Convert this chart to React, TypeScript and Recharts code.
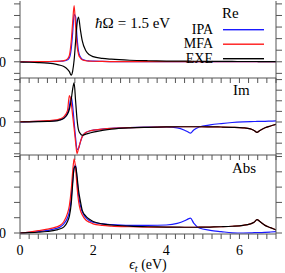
import { LineChart, Line, XAxis, YAxis } from "recharts";

// photon energy grid (eV)
const energy = [
  0, 0.25, 0.5, 0.75, 1.0, 1.1, 1.2, 1.3, 1.35, 1.4, 1.44, 1.48, 1.52, 1.56, 1.6, 1.65, 1.7, 1.8, 1.9, 2.0,
  2.25, 2.5, 3.0, 3.5, 4.0, 4.3, 4.5, 4.6, 4.66, 4.75, 4.9, 5.2, 5.5, 5.8, 6.1, 6.3, 6.4, 6.48, 6.56, 6.7, 6.85, 7.0,
];

const reIpa = [
  0, 0.001, 0.002, 0.003, 0.006, 0.009, 0.014, 0.035, 0.07, 0.22, 0.5, 0.82, 0.78, 0.42, 0.18, 0.085, 0.045, 0.022, 0.014, 0.01,
  0.006, 0.004, 0.003, 0.002, 0.002, 0.002, 0.002, 0.002, 0.002, 0.002, 0.001, 0.001, 0.001, 0.001, 0.001, 0.001, 0.001, 0.001, 0.001, 0.001, 0.001, 0.001,
];
const reMfa = [
  0, 0.001, 0.002, 0.004, 0.008, 0.012, 0.02, 0.05, 0.11, 0.35, 0.68, 0.97, 0.62, 0.28, 0.13, 0.065, 0.035, 0.018, 0.012, 0.009,
  0.006, 0.004, 0.003, 0.002, 0.002, 0.002, 0.002, 0.002, 0.002, 0.002, 0.002, 0.001, 0.001, 0.001, 0.001, 0.001, 0.001, 0.001, 0.001, 0.001, 0.001, 0.001,
];
const reExe = [
  -0.004, -0.008, -0.014, -0.024, -0.045, -0.06, -0.08, -0.13, -0.17, -0.23, -0.16, 0.03, 0.35, 0.66, 0.77, 0.56, 0.37, 0.19, 0.12, 0.09,
  0.06, 0.045, 0.027, 0.018, 0.013, 0.011, 0.01, 0.01, 0.01, 0.009, 0.009, 0.008, 0.007, 0.006, 0.005, 0.005, 0.005, 0.005, 0.004, 0.004, 0.003, 0.003,
];

const imIpa = [
  0.003, 0.005, 0.01, 0.018, 0.03, 0.045, 0.075, 0.17, 0.3, 0.48, 0.3, 0.0, -0.3, -0.52, -0.5, -0.38, -0.28, -0.2, -0.17, -0.155,
  -0.135, -0.12, -0.105, -0.098, -0.095, -0.11, -0.155, -0.19, -0.21, -0.15, -0.095, -0.055, -0.03, -0.01, 0.002, 0.007, 0.009, 0.01, 0.011, 0.013, 0.016, 0.02,
];
const imMfa = [
  0.005, 0.008, 0.015, 0.025, 0.04, 0.06, 0.1, 0.22, 0.5, 0.36, 0.12, -0.12, -0.38, -0.6, -0.5, -0.38, -0.28, -0.2, -0.17, -0.155,
  -0.135, -0.12, -0.108, -0.1, -0.093, -0.09, -0.09, -0.09, -0.09, -0.09, -0.09, -0.092, -0.095, -0.1, -0.11, -0.13, -0.16, -0.195, -0.16, -0.11, -0.075, -0.045,
];
const imExe = [
  0, 0.002, 0.005, 0.01, 0.02, 0.04, 0.07, 0.15, 0.24, 0.42, 0.62, 0.74, 0.4, 0.05, -0.15, -0.22, -0.25, -0.23, -0.21, -0.19,
  -0.16, -0.135, -0.11, -0.1, -0.093, -0.09, -0.09, -0.09, -0.09, -0.09, -0.09, -0.092, -0.095, -0.1, -0.11, -0.13, -0.16, -0.195, -0.16, -0.11, -0.075, -0.045,
];

const absIpa = [
  0, 0.008, 0.02, 0.035, 0.06, 0.08, 0.12, 0.2, 0.28, 0.45, 0.68, 0.85, 0.89, 0.7, 0.5, 0.36, 0.28, 0.2, 0.16, 0.14,
  0.12, 0.11, 0.1, 0.1, 0.105, 0.125, 0.16, 0.185, 0.195, 0.13, 0.065, 0.035, 0.018, 0.003, 0, 0.002, 0.004, 0.005, 0.006, 0.009, 0.013, 0.018,
];
const absMfa = [
  0, 0.012, 0.03, 0.05, 0.08, 0.1, 0.15, 0.26, 0.36, 0.56, 0.8, 0.97, 0.85, 0.6, 0.42, 0.3, 0.24, 0.17, 0.14, 0.12,
  0.1, 0.09, 0.082, 0.078, 0.076, 0.075, 0.075, 0.075, 0.075, 0.075, 0.076, 0.078, 0.082, 0.088, 0.1, 0.12, 0.14, 0.175, 0.15, 0.1, 0.07, 0.04,
];
const absExe = [
  0, 0.004, 0.01, 0.02, 0.04, 0.055, 0.08, 0.15, 0.22, 0.38, 0.64, 0.85, 0.87, 0.74, 0.56, 0.42, 0.3, 0.22, 0.18, 0.15,
  0.12, 0.105, 0.09, 0.082, 0.078, 0.076, 0.075, 0.075, 0.075, 0.075, 0.076, 0.078, 0.082, 0.088, 0.1, 0.12, 0.14, 0.175, 0.15, 0.1, 0.07, 0.04,
];

const xTicks = [
  0, 0.25, 0.5, 0.75, 1, 1.25, 1.5, 1.75, 2, 2.25, 2.5, 2.75, 3, 3.25, 3.5, 3.75, 4, 4.25, 4.5, 4.75, 5, 5.25, 5.5, 5.75, 6, 6.25, 6.5, 6.75, 7,
];
const reTicks = [-0.2, 0, 0.2, 0.4, 0.6, 0.8, 1.0];
const imTicks = [-0.6, -0.4, -0.2, 0, 0.2, 0.4, 0.6, 0.8];
const absTicks = [0, 0.2, 0.4, 0.6, 0.8, 1.0];

const series = [
  { name: "IPA", color: "#1a1aff" },
  { name: "MFA", color: "#ff1a1a" },
  { name: "EXE", color: "#000000" },
];

const FRAME = "#555";
const FONT = "'Liberation Serif', 'Times New Roman', serif";

function rows(ipa: number[], mfa: number[], exe: number[]) {
  return energy.map((x, i) => ({ x, IPA: ipa[i], MFA: mfa[i], EXE: exe[i] }));
}

interface PanelProps {
  data: any[];
  domain: [number, number];
  ticks: number[];
  top: number;
  height: number;
  marginTop: number;
  xAxisHeight: number;
  xLabels?: boolean;
}

function Panel({ data, domain, ticks, top, height, marginTop, xAxisHeight, xLabels }: PanelProps) {
  return (
    <div style={{ position: "absolute", left: 0, top }}>
      <LineChart width={285} height={height} data={data} margin={{ top: marginTop, right: 0, bottom: 0, left: 0 }}>
        <XAxis
          dataKey="x"
          type="number"
          domain={[0, 7]}
          ticks={xTicks}
          interval={0}
          allowDataOverflow
          height={xAxisHeight}
          stroke={FRAME}
          tickSize={5}
          tickMargin={6}
          tick={{ fill: "#000", fontSize: 14, fontFamily: FONT }}
          tickFormatter={(v: number) => (xLabels && v % 2 === 0 ? String(v) : "")}
        />
        <XAxis xAxisId="top" orientation="top" type="number" domain={[0, 7]} allowDataOverflow height={0} tick={false} tickLine={false} stroke={FRAME} />
        <YAxis
          type="number"
          domain={domain}
          ticks={ticks}
          interval={0}
          allowDataOverflow
          width={20}
          stroke={FRAME}
          tickSize={6}
          tickMargin={8}
          tick={{ fill: "#000", fontSize: 14, fontFamily: FONT }}
          tickFormatter={(v: number) => (v === 0 ? "0" : "")}
        />
        <YAxis
          yAxisId="right"
          orientation="right"
          type="number"
          domain={domain}
          ticks={ticks}
          interval={0}
          allowDataOverflow
          width={9}
          stroke={FRAME}
          tickSize={6}
          tickFormatter={() => ""}
        />
        {series.map((s) => (
          <Line key={s.name} dataKey={s.name} stroke={s.color} strokeWidth={1.2} dot={false} type="monotone" isAnimationActive={false} />
        ))}
      </LineChart>
    </div>
  );
}

export default function App() {
  return (
    <div style={{ position: "fixed", left: 0, top: 0, width: 285, height: 273, background: "#fff", overflow: "hidden" }}>
      <Panel data={rows(reIpa, reMfa, reExe)} domain={[-0.28, 1.05]} ticks={reTicks} top={0} height={86} marginTop={1} xAxisHeight={8} />
      <Panel data={rows(imIpa, imMfa, imExe)} domain={[-0.623, 0.83]} ticks={imTicks} top={78} height={85} marginTop={0} xAxisHeight={8} />
      <Panel data={rows(absIpa, absMfa, absExe)} domain={[-0.013, 1.02]} ticks={absTicks} top={155} height={118} marginTop={0} xAxisHeight={39} xLabels />
      <svg width={285} height={273} style={{ position: "absolute", left: 0, top: 0, pointerEvents: "none" }} fontFamily={FONT} fontSize={14}>
        <text x={95} y={28} fontSize={15}>
          <tspan fontStyle="italic">ħ</tspan>
          <tspan>Ω</tspan>
          <tspan dx={4}>=</tspan>
          <tspan dx={4}>1.5 eV</tspan>
        </text>
        <text x={222} y={18} fontSize={15}>Re</text>
        {series.map((s, i) => (
          <g key={s.name}>
            <text x={213} y={33.5 + i * 14.5} textAnchor="end">{s.name}</text>
            <rect x={223} y={29 + i * 14.5} width={41} height={1.4} fill={s.color} />
          </g>
        ))}
        <text x={233} y={94.5} fontSize={15}>Im</text>
        <text x={232} y={173} fontSize={15}>Abs</text>
        <text x={148} y={269} textAnchor="middle">
          <tspan fontStyle="italic">ϵ</tspan>
          <tspan fontStyle="italic" fontSize={10} dy={3}>t</tspan>
          <tspan dy={-3}> (eV)</tspan>
        </text>
      </svg>
    </div>
  );
}
